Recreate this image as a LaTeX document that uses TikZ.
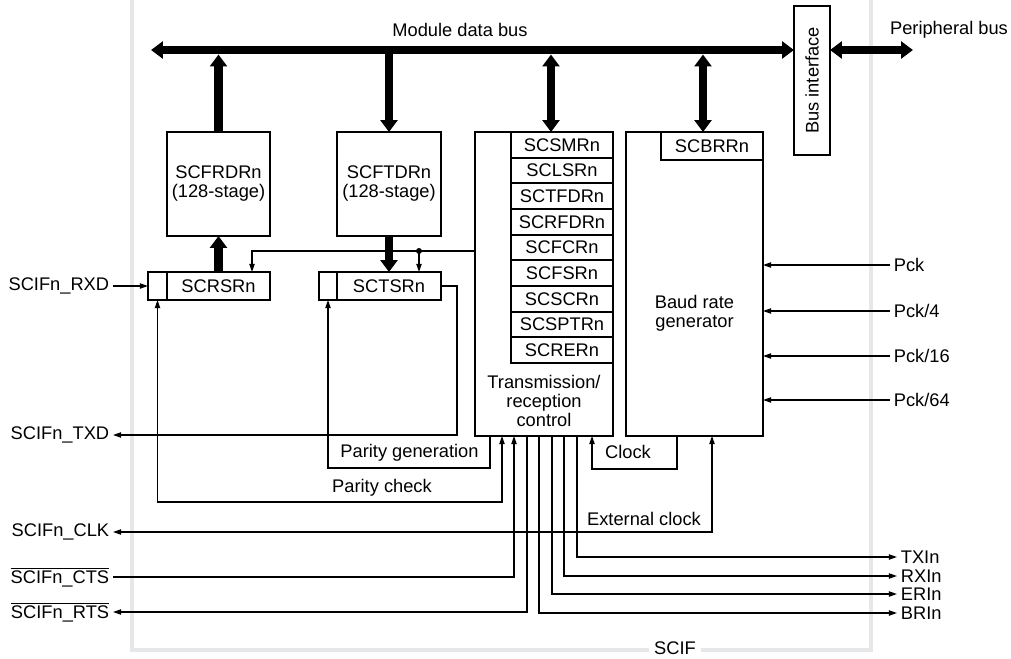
\documentclass[tikz,border=0pt]{standalone}
\usepackage{fontspec}
\setmainfont{Liberation Sans}
\usepackage{graphicx}
\usepackage{xcolor}
\definecolor{sciffr}{HTML}{E6E7E8}
\usepackage{tikz}
\usetikzlibrary{arrows.meta,positioning,calc}

\begin{document}
\begin{tikzpicture}[x=0.02cm,y=-0.02cm,font=\fontsize{10.4}{10.8}\selectfont,
  box/.style={draw,line width=1.1pt,inner sep=0pt,outer sep=0pt,align=center},
  reg/.style={box,minimum width=2.04cm,minimum height=0.5133cm},
  lbl/.style={inner sep=2pt,align=center},
  sig/.style={line width=0.65pt,>={Triangle[length=4.6pt,width=3pt]}},
  bus/.style={line width=5pt,>={Triangle[length=6.8pt,width=9.6pt]}}]
\useasboundingbox (0,0) rectangle (1011,659);
% SCIF frame
\draw[sciffr,line width=2.8pt] (132,-10) -- (132,650) -- (871,650) -- (871,-10);
\node[fill=white,inner sep=3pt] (scif) at (675,648) {SCIF};

% blocks
\node[box,minimum width=2.06cm,minimum height=2.08cm] (rdr) at (218.5,184) {SCFRDRn\\(128-stage)};
\node[box,minimum width=2.08cm,minimum height=2.08cm] (tdr) at (389,184) {SCFTDRn\\(128-stage)};
\node[box,minimum width=0.38cm,minimum height=0.56cm] (rsrbit) at (157.5,286) {};
\node[box,minimum width=2.06cm,minimum height=0.56cm] (rsr) at (218.5,286) {SCRSRn};
\node[box,minimum width=0.36cm,minimum height=0.56cm] (tsrbit) at (328,286) {};
\node[box,minimum width=2.08cm,minimum height=0.56cm] (tsr) at (389,286) {SCTSRn};
\node[box,minimum width=2.76cm,minimum height=6.08cm] (ctl) at (544,284) {};
\foreach \r [count=\i] in {SCSMRn,SCLSRn,SCTFDRn,SCRFDRn,SCFCRn,SCFSRn,SCSCRn,SCSPTRn,SCRERn}
  \node[reg] (reg\i) at (562,{132+25.67*(\i-0.5)}) {\r};
\node[lbl] (ctltxt) at (544,401) {Transmission/\\reception\\control};
\node[box,minimum width=2.74cm,minimum height=6.08cm] (brg) at (694.5,284) {};
\node[box,minimum width=2.04cm,minimum height=0.56cm] (brr) at (712,146) {SCBRRn};
\node[lbl] (brgtxt) at (694.5,313) {Baud rate\\generator};
\node[box,minimum width=0.72cm,minimum height=2.98cm] (bif) at (812,80.5) {\rotatebox{90}{Bus interface}};

% buses
\coordinate (busl) at (151,50);
\coordinate (busb) at (151,54.5);
\node[lbl] (mdb) at (460,30) {Module data bus};
\node[lbl] (pb) at (949,30) {Peripheral bus};
\draw[bus,<->] (busl) -- (bif.west |- busl);
\draw[bus,<->] (bif.east |- busl) -- ++(83,0);
\draw[bus,->] (rdr.north) -- (rdr.north |- busb);
\draw[bus,->] (tdr.north |- busl) -- (tdr.north);
\draw[bus,<->] ([xshift=0.14cm]ctl.north |- busb) -- ([xshift=0.14cm]ctl.north);
\draw[bus,<->] ([xshift=0.17cm]brg.north |- busb) -- ([xshift=0.17cm]brg.north);
\draw[bus,->] (rsr.north) -- (rdr.south);
\draw[bus,->] (tdr.south) -- (tsr.north);

% pin labels
\node[lbl,anchor=east] (rxd) at (113,286) {SCIFn\_RXD};
\node[lbl,anchor=east] (txd) at (113,435) {SCIFn\_TXD};
\node[lbl,anchor=east] (clk) at (113,532) {SCIFn\_CLK};
\node[lbl,anchor=east] (cts) at (113,577) {$\overline{\hbox{SCIFn\_CTS}}$};
\node[lbl,anchor=east] (rts) at (113,612) {$\overline{\hbox{SCIFn\_RTS}}$};
\node[lbl,anchor=west] (txin) at (897,557) {TXIn};
\node[lbl,anchor=west] (rxin) at (897,576) {RXIn};
\node[lbl,anchor=west] (erin) at (897,594) {ERIn};
\node[lbl,anchor=west] (brin) at (897,613) {BRIn};

% control signals
\coordinate (tap) at (419,251);
\draw[sig,->] (ctl.west |- tap) -| ($(rsr.north)+(33.5,0)$);
\draw[sig,->] (tap) -- (tap |- tsr.north);
\fill (tap) circle (1.7pt);
\draw[sig,->] (rxd.east) -- (rsrbit.west);
\draw[sig,->] (tsr.east) -- ++(16,0) |- (txd.east);
\draw[sig,->] ($(ctl.south west)+(15,0)$) -- ++(0,32) -| (tsrbit.south);
\node[lbl] (pgen) at (409.5,453) {Parity generation};
\draw[sig,<->] ($(ctl.south west)+(27,0)$) -- ++(0,66) -| (rsrbit.south);
\node[lbl] (pchk) at (382,488) {Parity check};
\draw[sig,<->] (clk.east) -| (brr.south |- brg.south);
\node[lbl] (extclk) at (644,519) {External clock};
\draw[sig,->] (cts.east) -| ($(ctl.south west)+(39,0)$);
\draw[sig,->] ($(ctl.south west)+(52,0)$) |- (rts.east);
\foreach \n/\dx in {txin/102,rxin/89,erin/77,brin/64}
  \draw[sig,->] ($(ctl.south west)+(\dx,0)$) |- (\n.west);
\draw[sig,->] ($(brg.south west)+(51,0)$) -- ++(0,33) -| ($(ctl.south west)+(117,0)$);
\node[lbl] (clock) at (628,452) {Clock};
\foreach \t/\y [count=\i] in {Pck/265,{Pck/4}/311,{Pck/16}/356,{Pck/64}/400}{
  \node[lbl,anchor=west] (pck\i) at (890,\y) {\t};
  \draw[sig,->] (pck\i.west) -- (brg.east |- pck\i.west);
}
\end{tikzpicture}
\end{document}
